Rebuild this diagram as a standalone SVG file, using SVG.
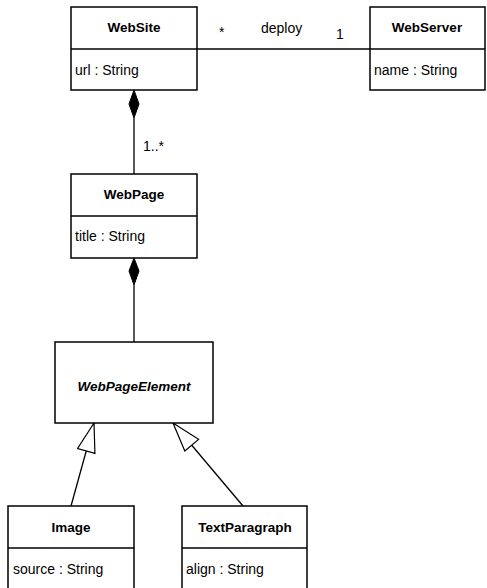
<svg xmlns="http://www.w3.org/2000/svg" width="487" height="588" viewBox="0 0 487 588">
<style>
.box{fill:#fff;stroke:#000;stroke-width:1.5}
.ln{stroke:#000;stroke-width:1.3;fill:none}
.t{font-family:"Liberation Sans",Arial,sans-serif;font-size:13.5px;font-weight:bold;text-anchor:middle;fill:#000}
.a{font-family:"Liberation Sans",Arial,sans-serif;font-size:14px;fill:#000}
.lbl{font-family:"Liberation Sans",Arial,sans-serif;font-size:14px;fill:#000}
</style>
<defs>
<marker id="gen" markerWidth="32" markerHeight="22" refX="30" refY="10" orient="auto" markerUnits="userSpaceOnUse">
<path d="M30,10 L1,1 L1,19 Z" fill="#fff" stroke="#000" stroke-width="1.2"/>
</marker>
</defs>
<g id="connectors">
<line class="ln" x1="197" y1="49" x2="370" y2="49"/>
<path d="M134,90 L139,104 L134,118 L129,104 Z" fill="#000" stroke="#000"/>
<line class="ln" x1="134" y1="118" x2="134" y2="174"/>
<path d="M134,258 L139,271 L134,285 L129,271 Z" fill="#000" stroke="#000"/>
<line class="ln" x1="134" y1="285" x2="134" y2="342"/>
<line class="ln" x1="71" y1="506" x2="94" y2="423" marker-end="url(#gen)"/>
<line class="ln" x1="243" y1="506" x2="173" y2="423" marker-end="url(#gen)"/>
<text class="lbl" x="219" y="37">*</text>
<text class="lbl" x="261" y="33">deploy</text>
<text class="lbl" x="336" y="39">1</text>
<text class="lbl" x="143" y="151">1..*</text>
</g>
<g id="WebSite">
<rect class="box" x="71" y="7" width="126" height="83"/>
<line class="ln" x1="71" y1="49" x2="197" y2="49"/>
<text class="t" x="134" y="32">WebSite</text>
<text class="a" x="75" y="75">url : String</text>
</g>
<g id="WebServer">
<rect class="box" x="370" y="7" width="115" height="83"/>
<line class="ln" x1="370" y1="49" x2="485" y2="49"/>
<text class="t" x="427" y="32">WebServer</text>
<text class="a" x="374" y="75">name : String</text>
</g>
<g id="WebPage">
<rect class="box" x="71" y="174" width="126" height="84"/>
<line class="ln" x1="71" y1="216" x2="197" y2="216"/>
<text class="t" x="134" y="199">WebPage</text>
<text class="a" x="75" y="241">title : String</text>
</g>
<g id="WebPageElement">
<rect class="box" x="55" y="342" width="158" height="81"/>
<text class="t" x="134" y="391" font-style="italic">WebPageElement</text>
</g>
<g id="Image">
<rect class="box" x="8" y="506" width="126" height="90"/>
<line class="ln" x1="8" y1="548" x2="134" y2="548"/>
<text class="t" x="71" y="532">Image</text>
<text class="a" x="13" y="574">source : String</text>
</g>
<g id="TextParagraph">
<rect class="box" x="182" y="506" width="125" height="90"/>
<line class="ln" x1="182" y1="548" x2="307" y2="548"/>
<text class="t" x="245" y="532">TextParagraph</text>
<text class="a" x="186" y="574">align : String</text>
</g>
</svg>
